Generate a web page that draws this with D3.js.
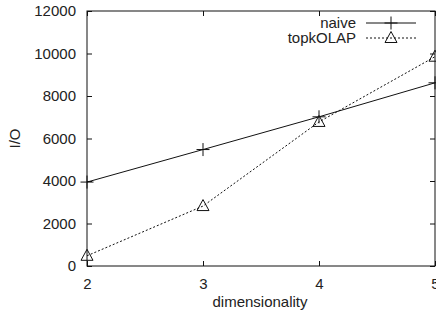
<!DOCTYPE html>
<html>
<head>
<meta charset="utf-8">
<script src="https://cdn.jsdelivr.net/npm/d3@7"></script>
<style>
  html, body { margin: 0; padding: 0; background: #fff; }
  svg { display: block; }
  text { font-family: "Liberation Sans", Arial, sans-serif; fill: #222; }
</style>
</head>
<body>
<div id="chart"></div>
<script>
// values
const dims = [2, 3, 4, 5];
const naive = [3950, 5480, 7020, 8620];
const topkOLAP = [480, 2820, 6780, 9850];
const yTicks = [0, 2000, 4000, 6000, 8000, 10000, 12000];

const width = 436, height = 320;
const margin = { top: 11, right: 1, bottom: 54, left: 87 };

const svg = d3.select("#chart").append("svg")
  .attr("width", width)
  .attr("height", height);

const x = d3.scaleLinear().domain([2, 5]).range([margin.left, width - margin.right]);
const y = d3.scaleLinear().domain([0, 12000]).range([height - margin.bottom, margin.top]);

const tickLen = 5;
const ink = "#111";

// frame
svg.append("rect")
  .attr("x", x(2)).attr("y", y(12000))
  .attr("width", x(5) - x(2)).attr("height", y(0) - y(12000))
  .attr("fill", "none").attr("stroke", ink).attr("stroke-width", 1);

// y axis (ticks inward, mirrored)
const yAxis = d3.axisLeft(y).tickValues(yTicks).tickSize(-tickLen).tickPadding(11).tickFormat(d3.format("d"));
const gy = svg.append("g").attr("transform", `translate(${x(2)},0)`).call(yAxis);
const yAxisR = d3.axisRight(y).tickValues(yTicks).tickSize(-tickLen).tickFormat("");
const gyr = svg.append("g").attr("transform", `translate(${x(5)},0)`).call(yAxisR);

// x axis
const xAxis = d3.axisBottom(x).tickValues(dims).tickSize(-tickLen).tickPadding(12).tickFormat(d3.format("d"));
const gx = svg.append("g").attr("transform", `translate(0,${y(0)})`).call(xAxis);
const xAxisT = d3.axisTop(x).tickValues(dims).tickSize(-tickLen).tickFormat("");
const gxt = svg.append("g").attr("transform", `translate(0,${y(12000)})`).call(xAxisT);

[gy, gyr, gx, gxt].forEach(g => {
  g.select(".domain").remove();
  g.selectAll(".tick line").attr("stroke", ink);
  g.selectAll("text").attr("font-size", 15).attr("fill", "#222")
    .style("font-family", '"Liberation Sans", Arial, sans-serif');
});

// axis titles
svg.append("text")
  .attr("x", (x(2) + x(5)) / 2 - 1).attr("y", 307)
  .attr("text-anchor", "middle").attr("font-size", 15)
  .text("dimensionality");

svg.append("text")
  .attr("transform", `translate(20,${(y(0) + y(12000)) / 2}) rotate(-90)`)
  .attr("text-anchor", "middle").attr("font-size", 15)
  .text("I/O");

// series
const series = [
  { name: "naive", values: naive, dash: null, marker: "plus" },
  { name: "topkOLAP", values: topkOLAP, dash: "2,2", marker: "tri" }
];

const line = d3.line().x((d, i) => x(dims[i])).y(d => y(d));

function drawMarker(g, type, cx, cy) {
  if (type === "plus") {
    g.append("path")
      .attr("d", `M${cx - 6.5},${cy}H${cx + 6.5}M${cx},${cy - 6.5}V${cy + 6.5}`)
      .attr("stroke", ink).attr("stroke-width", 1).attr("fill", "none");
  } else {
    g.append("path")
      .attr("d", `M${cx},${cy - 6.5}L${cx + 6},${cy + 4.5}L${cx - 6},${cy + 4.5}Z`)
      .attr("stroke", ink).attr("stroke-width", 1).attr("fill", "none");
  }
}

series.forEach(s => {
  const g = svg.append("g");
  g.append("path")
    .datum(s.values)
    .attr("d", line)
    .attr("fill", "none")
    .attr("stroke", ink)
    .attr("stroke-width", 1)
    .attr("stroke-dasharray", s.dash);
  s.values.forEach((v, i) => drawMarker(g, s.marker, x(dims[i]), y(v)));
});

// legend
const legend = svg.append("g");
series.forEach((s, i) => {
  const ly = 23 + i * 15;
  legend.append("text")
    .attr("x", 356).attr("y", ly + 5)
    .attr("text-anchor", "end").attr("font-size", 15)
    .text(s.name);
  legend.append("line")
    .attr("x1", 366).attr("x2", 416).attr("y1", ly).attr("y2", ly)
    .attr("stroke", ink).attr("stroke-width", 1)
    .attr("stroke-dasharray", s.dash);
  drawMarker(legend, s.marker, 391, ly);
});
</script>
</body>
</html>
